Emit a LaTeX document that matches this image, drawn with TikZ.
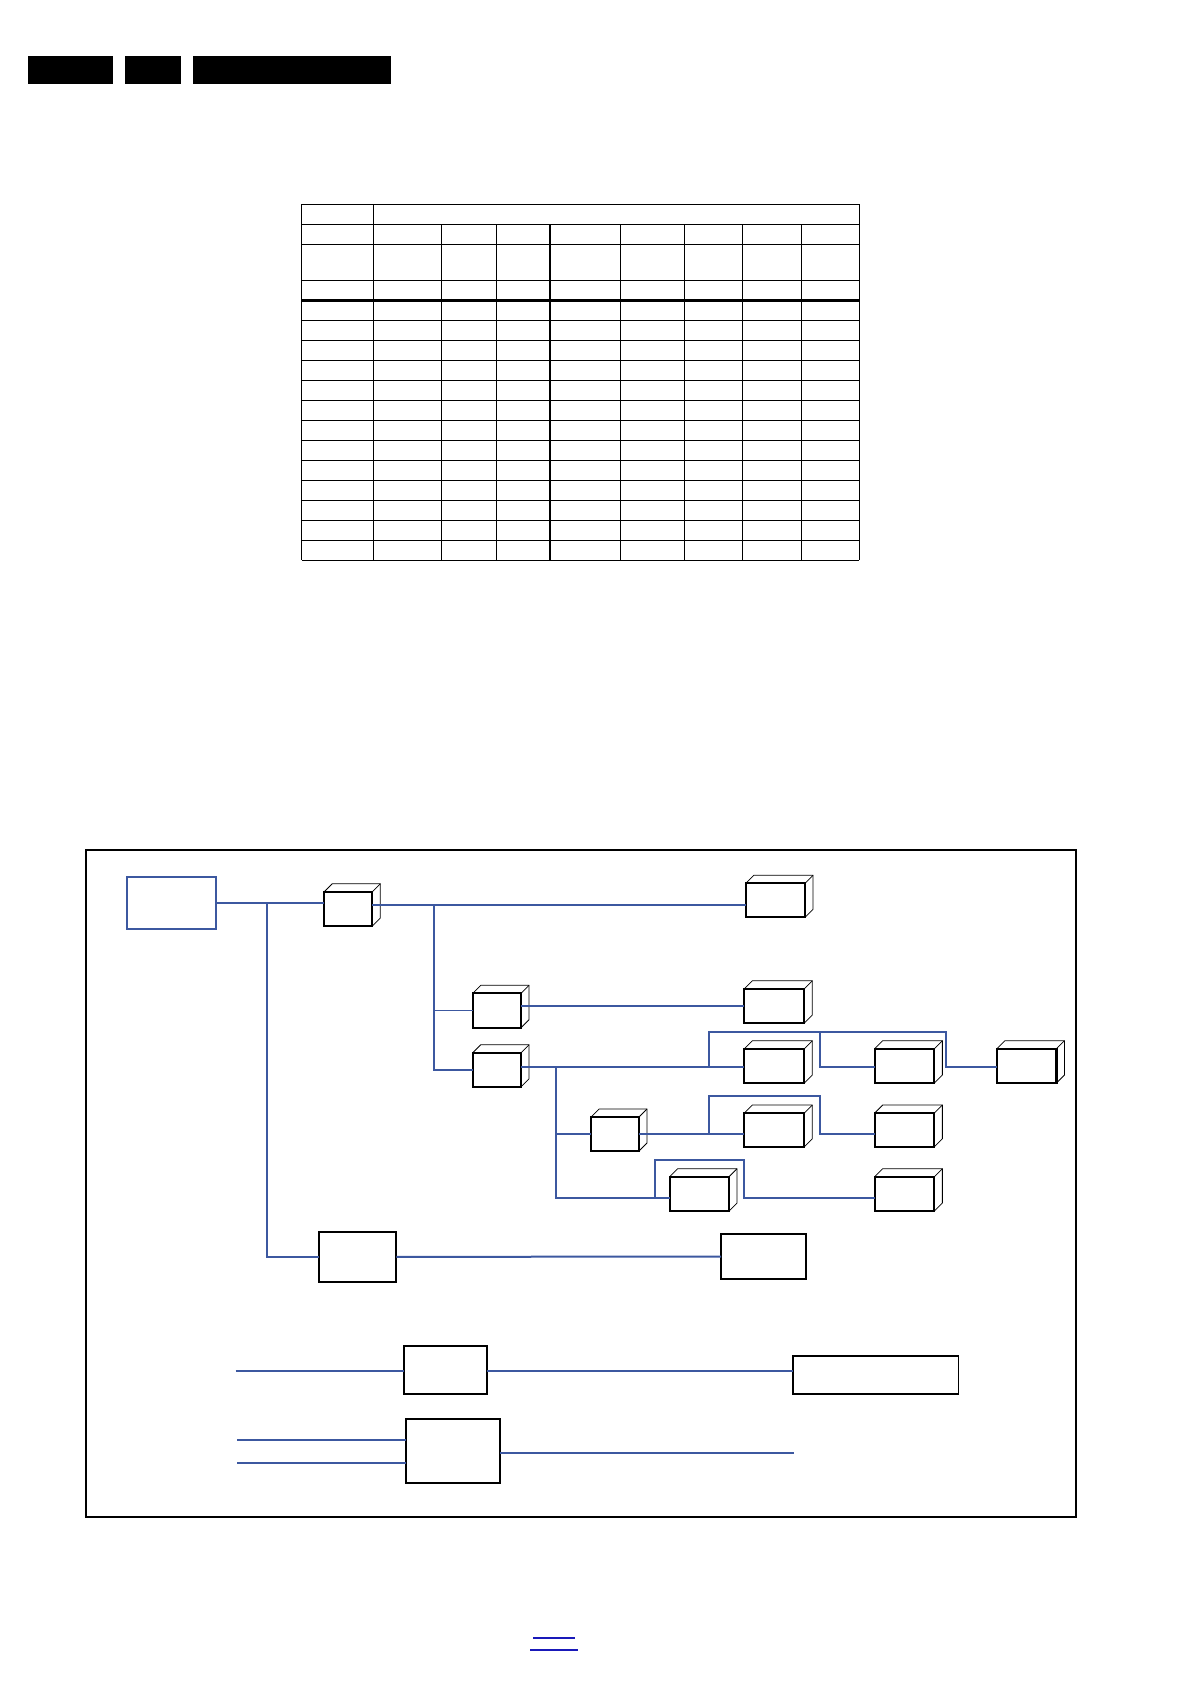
\documentclass[tikz,border=0pt]{standalone}
\usetikzlibrary{calc}
\definecolor{lineblue}{RGB}{60,88,160}
\definecolor{linkblue}{RGB}{25,25,185}
\tikzset{
  bl/.style={draw=lineblue, line width=2pt},
  blthin/.style={draw=lineblue, line width=1.2pt},
  tbl/.style={draw=black, line width=1.2pt},
  tblthick/.style={draw=black, line width=3.6pt},
  cubefront/.style={draw=black, line width=2.2pt, rectangle, inner sep=0pt, outer sep=0pt, fill=white},
  backedge/.style={draw=black, line width=0.8pt},
  plainbox/.style={draw=black, line width=2pt, rectangle, inner sep=0pt, outer sep=0pt},
  srcbox/.style={draw=lineblue, line width=2.2pt, rectangle, inner sep=0pt, outer sep=0pt},
  bar/.style={fill=black, draw=none},
  frame/.style={draw=black, line width=2pt}
}
\newcommand\cubeback[1]{%
  \draw[backedge] (#1.north west) -- ++(8,-8) -- ([shift={(8,-8)}]#1.north east)
     -- ([shift={(8,-8)}]#1.south east) -- (#1.south east);
  \draw[backedge] (#1.north east) -- ++(8,-8);}
\begin{document}
\begin{tikzpicture}[x=1pt,y=-1pt]
\useasboundingbox (0,0) rectangle (1191,1684);
% header bars
\fill[bar] (28,56) rectangle (113,84);
\fill[bar] (125,56) rectangle (181,84);
\fill[bar] (193,56) rectangle (391,84);
% table
\foreach \y in {204.3,224.3,244.3,280.3}
  \draw[tbl] (301.8,\y) -- (859.2,\y);
\draw[tblthick] (301.8,300.3) -- (859.2,300.3);
\foreach \k in {1,...,13}
  \draw[tbl] (301.8,{300.3+\k*20}) -- (859.2,{300.3+\k*20});
\foreach \x in {301.8,373.7,859.2}
  \draw[tbl] (\x,204.3) -- (\x,560.3);
\foreach \x in {441.4,496.2,549.9,620.7,684.1,742.1,801.2}
  \draw[tbl] (\x,224.3) -- (\x,560.3);
% frame
\draw[frame] (86,850) rectangle (1076,1516.5);
% nodes
\node[srcbox, minimum width=89.6pt, minimum height=52pt] (src) at (171.5,903) {};
\node[cubefront, minimum width=48pt, minimum height=34.3pt] (b1) at (348.3,908.9) {};
\node[cubefront, minimum width=59.3pt, minimum height=34pt] (bA) at (775.4,900.3) {};
\node[cubefront, minimum width=48.3pt, minimum height=34.4pt] (b2) at (496.9,1010.5) {};
\node[cubefront, minimum width=48.3pt, minimum height=34.1pt] (b3) at (496.9,1069.8) {};
\node[cubefront, minimum width=60pt, minimum height=34.3pt] (bB) at (774.3,1005.9) {};
\node[cubefront, minimum width=60pt, minimum height=34.3pt] (bC) at (774.3,1065.9) {};
\node[cubefront, minimum width=59.7pt, minimum height=34.3pt] (bD) at (904.5,1065.9) {};
\node[cubefront, minimum width=59.6pt, minimum height=34.3pt] (bE) at (1026.6,1065.9) {};
\node[cubefront, minimum width=47.9pt, minimum height=34pt] (bF) at (615,1134) {};
\node[cubefront, minimum width=60pt, minimum height=33.7pt] (bG) at (774.3,1129.9) {};
\node[cubefront, minimum width=59.7pt, minimum height=33.7pt] (bH) at (904.5,1129.9) {};
\node[cubefront, minimum width=59.4pt, minimum height=34.3pt] (bI) at (699.3,1193.9) {};
\node[cubefront, minimum width=59.7pt, minimum height=34.3pt] (bJ) at (904.5,1193.9) {};
\node[plainbox, minimum width=77pt, minimum height=49.5pt] (bK) at (357.9,1256.9) {};
\node[plainbox, minimum width=85pt, minimum height=45pt] (bL) at (763.5,1256.5) {};
\node[plainbox, minimum width=82.6pt, minimum height=48pt] (bM) at (445.4,1370) {};
\node[plainbox, line width=1.5pt, minimum width=165.8pt, minimum height=38pt] (bN) at (875.8,1375) {};
\node[plainbox, line width=2.2pt, minimum width=94.4pt, minimum height=63.7pt] (bO) at (452.8,1451.2) {};
\foreach \n in {b1,bA,b2,b3,bB,bC,bD,bE,bF,bG,bH,bI,bJ} \cubeback{\n};
% junction coordinates
\coordinate (jL) at (267.3,903);
\coordinate (jV) at (434,905);
\coordinate (jW) at (556,1066.7);
\coordinate (jC1) at (709.3,1066.7);
\coordinate (jC2) at (819.6,1032);
\coordinate (jG1) at (709.3,1133.7);
\coordinate (jI1) at (655,1198);
\coordinate (inM) at (235.7,1370.7);
\coordinate (inO1) at (237.2,1440);
\coordinate (inO2) at (237.2,1462.7);
\coordinate (outO) at (794.4,1452.7);
% connectors
\draw[bl] (src.east) -- (src.east -| b1.west);
\draw[bl] (jL) -- (jL |- bK.west) -- (bK.west);
\draw[bl] (bK.east) -- (bL.west);
\draw[bl] (b1.east |- jV) -- (bA.west |- jV);
\draw[bl] (jV) -- (jV |- b3.west) -- (b3.west);
\draw[blthin] (jV |- b2.west) -- (b2.west);
\draw[bl] (b2.east |- bB.west) -- (bB.west);
\draw[bl] (b3.east |- jW) -- (bC.west |- jW);
\draw[bl] (jC1) -- (709.3,1032) -- (946,1032) -- (946,1066.7) -- (bE.west |- jW);
\draw[bl] (jC2) -- (819.6,1066.7) -- (bD.west |- jW);
\draw[bl] (jW) -- (556,1198) -- (bI.west |- 0,1198);
\draw[bl] (556,1133.7) -- (bF.west |- 0,1133.7);
\draw[bl] (bF.east |- 0,1133.7) -- (bG.west |- 0,1133.7);
\draw[bl] (jG1) -- (709.3,1095.7) -- (819.6,1095.7) -- (819.6,1133.7) -- (bH.west |- 0,1133.7);
\draw[bl] (jI1) -- (655,1159.7) -- (744.3,1159.7) -- (744.3,1198) -- (bJ.west |- 0,1198);
% bottom section
\draw[bl] (inM) -- (inM -| bM.west);
\draw[bl] (bM.east |- inM) -- (bN.west |- inM);
\draw[blthin] (inO1) -- (inO1 -| bO.west);
\draw[bl] (inO2) -- (inO2 -| bO.west);
\draw[bl] (bO.east |- outO) -- (outO);
% link underlines
\coordinate (lk1) at (533.3,1638);
\coordinate (lk2) at (530.3,1650);
\draw[draw=linkblue, line width=1.3pt] (lk1) -- ++(41.4,0);
\draw[draw=linkblue, line width=1.3pt] (lk2) -- ++(47.4,0);
\end{tikzpicture}
\end{document}
